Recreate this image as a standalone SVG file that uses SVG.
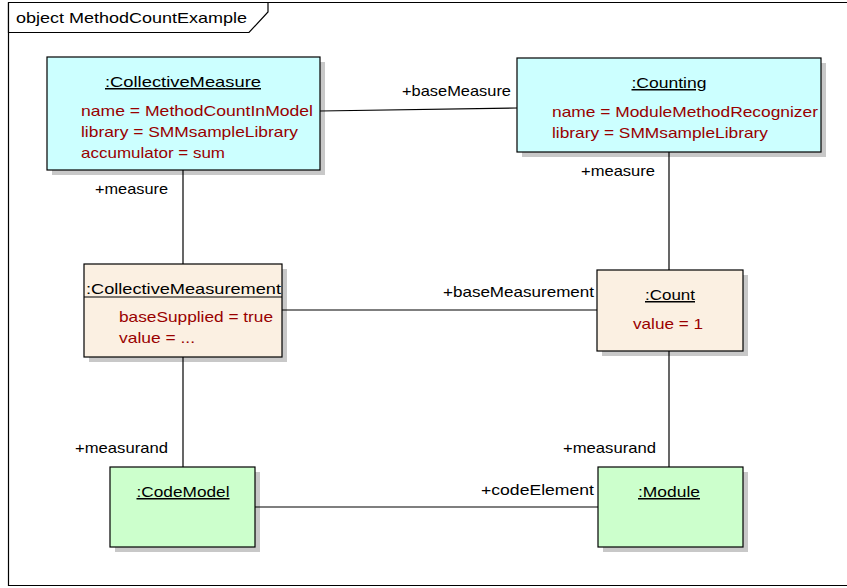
<svg xmlns="http://www.w3.org/2000/svg" width="847" height="588" viewBox="0 0 847 588">
<style>
text{font-family:"Liberation Sans",Arial,sans-serif;font-size:15px;fill:#000}
.t{text-anchor:middle;text-decoration:underline}
.a{fill:#990000}
.box{stroke:#000;stroke-width:1.2}
.sh{fill:#c8c8c8}
.cn line{stroke:#000;stroke-width:1.2}
</style>
<rect x="0" y="0" width="847" height="588" fill="#fff"/>
<g id="frame">
<path d="M8.5 2.5 H850 M8.5 2.5 V585.5 H850" fill="none" stroke="#000" stroke-width="1.2"/>
<path d="M8.5 2.5 H268 V12 L249 32.5 H8.5 Z" fill="#fff" stroke="#000" stroke-width="1.2"/>
<text x="16" y="23" textLength="231" lengthAdjust="spacingAndGlyphs">object MethodCountExample</text>
</g>
<g id="collectiveMeasure">
<rect class="sh" x="52" y="62" width="273" height="113"/>
<rect class="box" x="47" y="57" width="273" height="113" fill="#ccffff"/>
<text class="t" x="183" y="87" textLength="156" lengthAdjust="spacingAndGlyphs">:CollectiveMeasure</text>
<text class="a" x="81" y="116" textLength="232" lengthAdjust="spacingAndGlyphs">name = MethodCountInModel</text>
<text class="a" x="81" y="137" textLength="217" lengthAdjust="spacingAndGlyphs">library = SMMsampleLibrary</text>
<text class="a" x="81" y="158" textLength="144" lengthAdjust="spacingAndGlyphs">accumulator = sum</text>
</g>
<g id="counting">
<rect class="sh" x="522" y="63" width="304" height="94"/>
<rect class="box" x="517" y="58" width="304" height="94" fill="#ccffff"/>
<text class="t" x="669" y="88" textLength="75" lengthAdjust="spacingAndGlyphs">:Counting</text>
<text class="a" x="552" y="117" textLength="266" lengthAdjust="spacingAndGlyphs">name = ModuleMethodRecognizer</text>
<text class="a" x="552" y="138" textLength="216" lengthAdjust="spacingAndGlyphs">library = SMMsampleLibrary</text>
</g>
<g id="collectiveMeasurement">
<rect class="sh" x="89" y="269" width="198" height="93"/>
<rect class="box" x="84" y="264" width="198" height="93" fill="#fbf0e2"/>
<text x="86" y="294" textLength="195" lengthAdjust="spacingAndGlyphs">:CollectiveMeasurement</text>
<line x1="84" y1="297" x2="282" y2="297" stroke="#000" stroke-width="1.2"/>
<text class="a" x="119" y="322" textLength="154" lengthAdjust="spacingAndGlyphs">baseSupplied = true</text>
<text class="a" x="119" y="343" textLength="76" lengthAdjust="spacingAndGlyphs">value = ...</text>
</g>
<g id="count">
<rect class="sh" x="602" y="275" width="146" height="81"/>
<rect class="box" x="597" y="270" width="146" height="81" fill="#fbf0e2"/>
<text class="t" x="670" y="300" textLength="50" lengthAdjust="spacingAndGlyphs">:Count</text>
<text class="a" x="668" y="329" text-anchor="middle" textLength="70" lengthAdjust="spacingAndGlyphs">value = 1</text>
</g>
<g id="codeModel">
<rect class="sh" x="115" y="472" width="145" height="80"/>
<rect class="box" x="110" y="467" width="145" height="80" fill="#ccffcc"/>
<text class="t" x="183" y="497" textLength="93" lengthAdjust="spacingAndGlyphs">:CodeModel</text>
</g>
<g id="module">
<rect class="sh" x="603" y="472" width="145" height="80"/>
<rect class="box" x="598" y="467" width="145" height="80" fill="#ccffcc"/>
<text class="t" x="669" y="497" textLength="62" lengthAdjust="spacingAndGlyphs">:Module</text>
</g>
<g class="cn" id="connectors">
<line x1="320" y1="111" x2="517" y2="108"/>
<line x1="183" y1="170" x2="183" y2="264"/>
<line x1="669" y1="152" x2="669" y2="270"/>
<line x1="282" y1="310" x2="597" y2="310"/>
<line x1="183" y1="357" x2="183" y2="467"/>
<line x1="669" y1="351" x2="669" y2="467"/>
<line x1="255" y1="507" x2="598" y2="507"/>
<text x="402" y="96" textLength="109" lengthAdjust="spacingAndGlyphs">+baseMeasure</text>
<text x="95" y="194" textLength="73" lengthAdjust="spacingAndGlyphs">+measure</text>
<text x="581" y="176" textLength="74" lengthAdjust="spacingAndGlyphs">+measure</text>
<text x="443" y="297" textLength="151" lengthAdjust="spacingAndGlyphs">+baseMeasurement</text>
<text x="75" y="453" textLength="93" lengthAdjust="spacingAndGlyphs">+measurand</text>
<text x="563" y="453" textLength="93" lengthAdjust="spacingAndGlyphs">+measurand</text>
<text x="481" y="495" textLength="113" lengthAdjust="spacingAndGlyphs">+codeElement</text>
</g>
</svg>
